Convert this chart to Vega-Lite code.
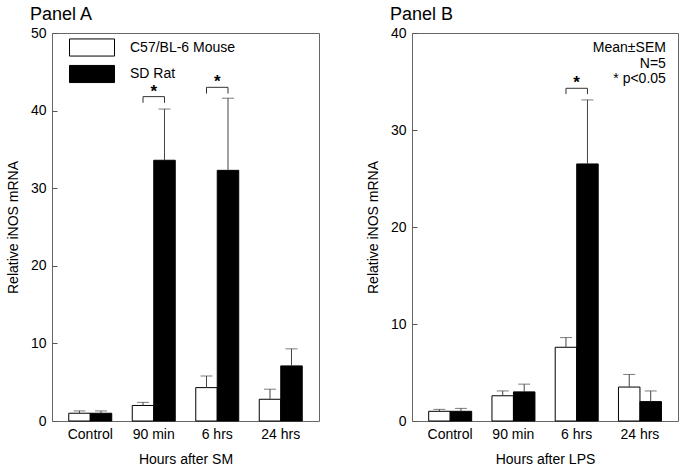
{
  "$schema": "https://vega.github.io/schema/vega-lite/v6.json",
  "padding": {"left": 5, "top": 5, "right": 3, "bottom": 5},
  "background": "white",
  "config": {
    "font": "Liberation Sans",
    "view": {"stroke": "#666", "strokeWidth": 1},
    "axisY": {"grid": false, "domain": false, "tickSize": 5, "offset": -5, "tickColor": "#555", "labelPadding": 6, "labelFontSize": 14, "labelColor": "#000", "titleFontSize": 14, "titleFontWeight": "normal", "titleColor": "#000", "titlePadding": 10},
    "axisX": {"grid": false, "domain": false, "ticks": false, "labelAngle": 0, "labelPadding": 6, "labelFontSize": 14, "labelColor": "#000", "titleFontSize": 14, "titleFontWeight": "normal", "titleColor": "#000", "titlePadding": 11},
    "title": {"fontSize": 18, "fontWeight": "normal", "color": "#000", "anchor": "start", "frame": "group", "baseline": "alphabetic", "dx": -22, "offset": 2}
  },
  "datasets": {
    "a": [
      {"time": "Control", "group": "C57/BL-6 Mouse", "mean": 1.0, "hi": 1.3},
      {"time": "Control", "group": "SD Rat", "mean": 1.0, "hi": 1.3},
      {"time": "90 min", "group": "C57/BL-6 Mouse", "mean": 2.0, "hi": 2.4},
      {"time": "90 min", "group": "SD Rat", "mean": 33.6, "hi": 40.2},
      {"time": "6 hrs", "group": "C57/BL-6 Mouse", "mean": 4.3, "hi": 5.8},
      {"time": "6 hrs", "group": "SD Rat", "mean": 32.3, "hi": 41.6},
      {"time": "24 hrs", "group": "C57/BL-6 Mouse", "mean": 2.8, "hi": 4.1},
      {"time": "24 hrs", "group": "SD Rat", "mean": 7.1, "hi": 9.3}
    ],
    "b": [
      {"time": "Control", "group": "C57/BL-6 Mouse", "mean": 1.0, "hi": 1.2},
      {"time": "Control", "group": "SD Rat", "mean": 1.0, "hi": 1.3},
      {"time": "90 min", "group": "C57/BL-6 Mouse", "mean": 2.6, "hi": 3.1},
      {"time": "90 min", "group": "SD Rat", "mean": 3.0, "hi": 3.8},
      {"time": "6 hrs", "group": "C57/BL-6 Mouse", "mean": 7.6, "hi": 8.6},
      {"time": "6 hrs", "group": "SD Rat", "mean": 26.5, "hi": 33.1},
      {"time": "24 hrs", "group": "C57/BL-6 Mouse", "mean": 3.5, "hi": 4.8},
      {"time": "24 hrs", "group": "SD Rat", "mean": 2.0, "hi": 3.1}
    ],
    "abr": [
      {"time": "90 min", "group": "C57/BL-6 Mouse", "v": 41.0, "o": 1},
      {"time": "90 min", "group": "C57/BL-6 Mouse", "v": 41.8, "o": 2},
      {"time": "90 min", "group": "SD Rat", "v": 41.8, "o": 3},
      {"time": "90 min", "group": "SD Rat", "v": 41.0, "o": 4},
      {"time": "6 hrs", "group": "C57/BL-6 Mouse", "v": 42.2, "o": 1},
      {"time": "6 hrs", "group": "C57/BL-6 Mouse", "v": 43.0, "o": 2},
      {"time": "6 hrs", "group": "SD Rat", "v": 43.0, "o": 3},
      {"time": "6 hrs", "group": "SD Rat", "v": 42.2, "o": 4}
    ],
    "bbr": [
      {"time": "6 hrs", "group": "C57/BL-6 Mouse", "v": 33.7, "o": 1},
      {"time": "6 hrs", "group": "C57/BL-6 Mouse", "v": 34.3, "o": 2},
      {"time": "6 hrs", "group": "SD Rat", "v": 34.3, "o": 3},
      {"time": "6 hrs", "group": "SD Rat", "v": 33.7, "o": 4}
    ],
    "aast": [
      {"time": "90 min", "v": 41.75, "label": "*"},
      {"time": "6 hrs", "v": 43.0, "label": "*"}
    ],
    "bast": [
      {"time": "6 hrs", "v": 34.3, "label": "*"}
    ],
    "bnote": [
      {"time": "24 hrs", "v": 38.0, "label": "Mean±SEM"},
      {"time": "24 hrs", "v": 36.4, "label": "N=5"},
      {"time": "24 hrs", "v": 34.8, "label": "* p<0.05"}
    ]
  },
  "hconcat": [
    {
      "width": 267,
      "height": 388,
      "title": {"text": "Panel A"},
      "layer": [
        {
          "data": {"name": "a"},
          "mark": {"type": "bar", "stroke": "#000", "strokeWidth": 1, "fillOpacity": 1},
          "encoding": {
            "x": {"field": "time", "type": "nominal", "sort": ["Control", "90 min", "6 hrs", "24 hrs"], "scale": {"paddingInner": 0.323, "paddingOuter": 0.264}, "axis": {"title": "Hours after SM"}},
            "xOffset": {"field": "group", "type": "nominal", "sort": ["C57/BL-6 Mouse", "SD Rat"], "scale": {"paddingInner": 0, "paddingOuter": 0}},
            "y": {"field": "mean", "type": "quantitative", "scale": {"domain": [0, 50], "nice": false}, "axis": {"title": "Relative iNOS mRNA", "values": [0, 10, 20, 30, 40, 50]}},
            "fill": {"field": "group", "type": "nominal", "scale": {"domain": ["C57/BL-6 Mouse", "SD Rat"], "range": ["#ffffff", "#000000"]},
              "legend": {"title": null, "orient": "none", "legendX": 30.5, "legendY": 5, "padding": 0, "symbolType": "M-2.5,-0.95H2.5V0.95H-2.5Z", "symbolSize": 324, "symbolStrokeColor": "#000", "symbolStrokeWidth": 1, "symbolOpacity": 1, "labelFontSize": 14, "labelColor": "#000", "labelOffset": 28.5, "rowPadding": 3.5}}
          }
        },
        {
          "data": {"name": "a"},
          "mark": {"type": "rule", "color": "#444", "strokeWidth": 1},
          "encoding": {
            "x": {"field": "time", "type": "nominal", "sort": ["Control", "90 min", "6 hrs", "24 hrs"]},
            "xOffset": {"field": "group", "type": "nominal", "sort": ["C57/BL-6 Mouse", "SD Rat"]},
            "y": {"field": "mean", "type": "quantitative"},
            "y2": {"field": "hi"}
          }
        },
        {
          "data": {"name": "a"},
          "mark": {"type": "tick", "color": "#444", "size": 12, "thickness": 1, "orient": "horizontal"},
          "encoding": {
            "x": {"field": "time", "type": "nominal", "sort": ["Control", "90 min", "6 hrs", "24 hrs"]},
            "xOffset": {"field": "group", "type": "nominal", "sort": ["C57/BL-6 Mouse", "SD Rat"]},
            "y": {"field": "hi", "type": "quantitative"}
          }
        },
        {
          "data": {"name": "abr"},
          "mark": {"type": "line", "color": "#333", "strokeWidth": 1},
          "encoding": {
            "x": {"field": "time", "type": "nominal", "sort": ["Control", "90 min", "6 hrs", "24 hrs"]},
            "xOffset": {"field": "group", "type": "nominal", "sort": ["C57/BL-6 Mouse", "SD Rat"]},
            "y": {"field": "v", "type": "quantitative"},
            "detail": {"field": "time"},
            "order": {"field": "o", "type": "quantitative"}
          }
        },
        {
          "data": {"name": "aast"},
          "mark": {"type": "text", "fontSize": 17, "fontWeight": "bold", "baseline": "alphabetic", "align": "center", "color": "#000"},
          "encoding": {
            "x": {"field": "time", "type": "nominal", "sort": ["Control", "90 min", "6 hrs", "24 hrs"]},
            "y": {"field": "v", "type": "quantitative"},
            "text": {"field": "label"}
          }
        }
      ]
    },
    {
      "width": 266,
      "height": 388,
      "title": {"text": "Panel B"},
      "layer": [
        {
          "data": {"name": "b"},
          "mark": {"type": "bar", "stroke": "#000", "strokeWidth": 1, "fillOpacity": 1},
          "encoding": {
            "x": {"field": "time", "type": "nominal", "sort": ["Control", "90 min", "6 hrs", "24 hrs"], "scale": {"paddingInner": 0.323, "paddingOuter": 0.264}, "axis": {"title": "Hours after LPS"}},
            "xOffset": {"field": "group", "type": "nominal", "sort": ["C57/BL-6 Mouse", "SD Rat"], "scale": {"paddingInner": 0, "paddingOuter": 0}},
            "y": {"field": "mean", "type": "quantitative", "scale": {"domain": [0, 40], "nice": false}, "axis": {"title": "Relative iNOS mRNA", "values": [0, 10, 20, 30, 40]}},
            "fill": {"field": "group", "type": "nominal", "scale": {"domain": ["C57/BL-6 Mouse", "SD Rat"], "range": ["#ffffff", "#000000"]}, "legend": null}
          }
        },
        {
          "data": {"name": "b"},
          "mark": {"type": "rule", "color": "#444", "strokeWidth": 1},
          "encoding": {
            "x": {"field": "time", "type": "nominal", "sort": ["Control", "90 min", "6 hrs", "24 hrs"]},
            "xOffset": {"field": "group", "type": "nominal", "sort": ["C57/BL-6 Mouse", "SD Rat"]},
            "y": {"field": "mean", "type": "quantitative"},
            "y2": {"field": "hi"}
          }
        },
        {
          "data": {"name": "b"},
          "mark": {"type": "tick", "color": "#444", "size": 12, "thickness": 1, "orient": "horizontal"},
          "encoding": {
            "x": {"field": "time", "type": "nominal", "sort": ["Control", "90 min", "6 hrs", "24 hrs"]},
            "xOffset": {"field": "group", "type": "nominal", "sort": ["C57/BL-6 Mouse", "SD Rat"]},
            "y": {"field": "hi", "type": "quantitative"}
          }
        },
        {
          "data": {"name": "bbr"},
          "mark": {"type": "line", "color": "#333", "strokeWidth": 1},
          "encoding": {
            "x": {"field": "time", "type": "nominal", "sort": ["Control", "90 min", "6 hrs", "24 hrs"]},
            "xOffset": {"field": "group", "type": "nominal", "sort": ["C57/BL-6 Mouse", "SD Rat"]},
            "y": {"field": "v", "type": "quantitative"},
            "detail": {"field": "time"},
            "order": {"field": "o", "type": "quantitative"}
          }
        },
        {
          "data": {"name": "bast"},
          "mark": {"type": "text", "fontSize": 17, "fontWeight": "bold", "baseline": "alphabetic", "align": "center", "color": "#000"},
          "encoding": {
            "x": {"field": "time", "type": "nominal", "sort": ["Control", "90 min", "6 hrs", "24 hrs"]},
            "y": {"field": "v", "type": "quantitative"},
            "text": {"field": "label"}
          }
        },
        {
          "data": {"name": "bnote"},
          "mark": {"type": "text", "fontSize": 14, "baseline": "alphabetic", "align": "right", "dx": 26, "color": "#000"},
          "encoding": {
            "x": {"field": "time", "type": "nominal", "sort": ["Control", "90 min", "6 hrs", "24 hrs"]},
            "y": {"field": "v", "type": "quantitative"},
            "text": {"field": "label"}
          }
        }
      ]
    }
  ],
  "spacing": 45,
  "resolve": {"legend": {"fill": "independent"}}
}
